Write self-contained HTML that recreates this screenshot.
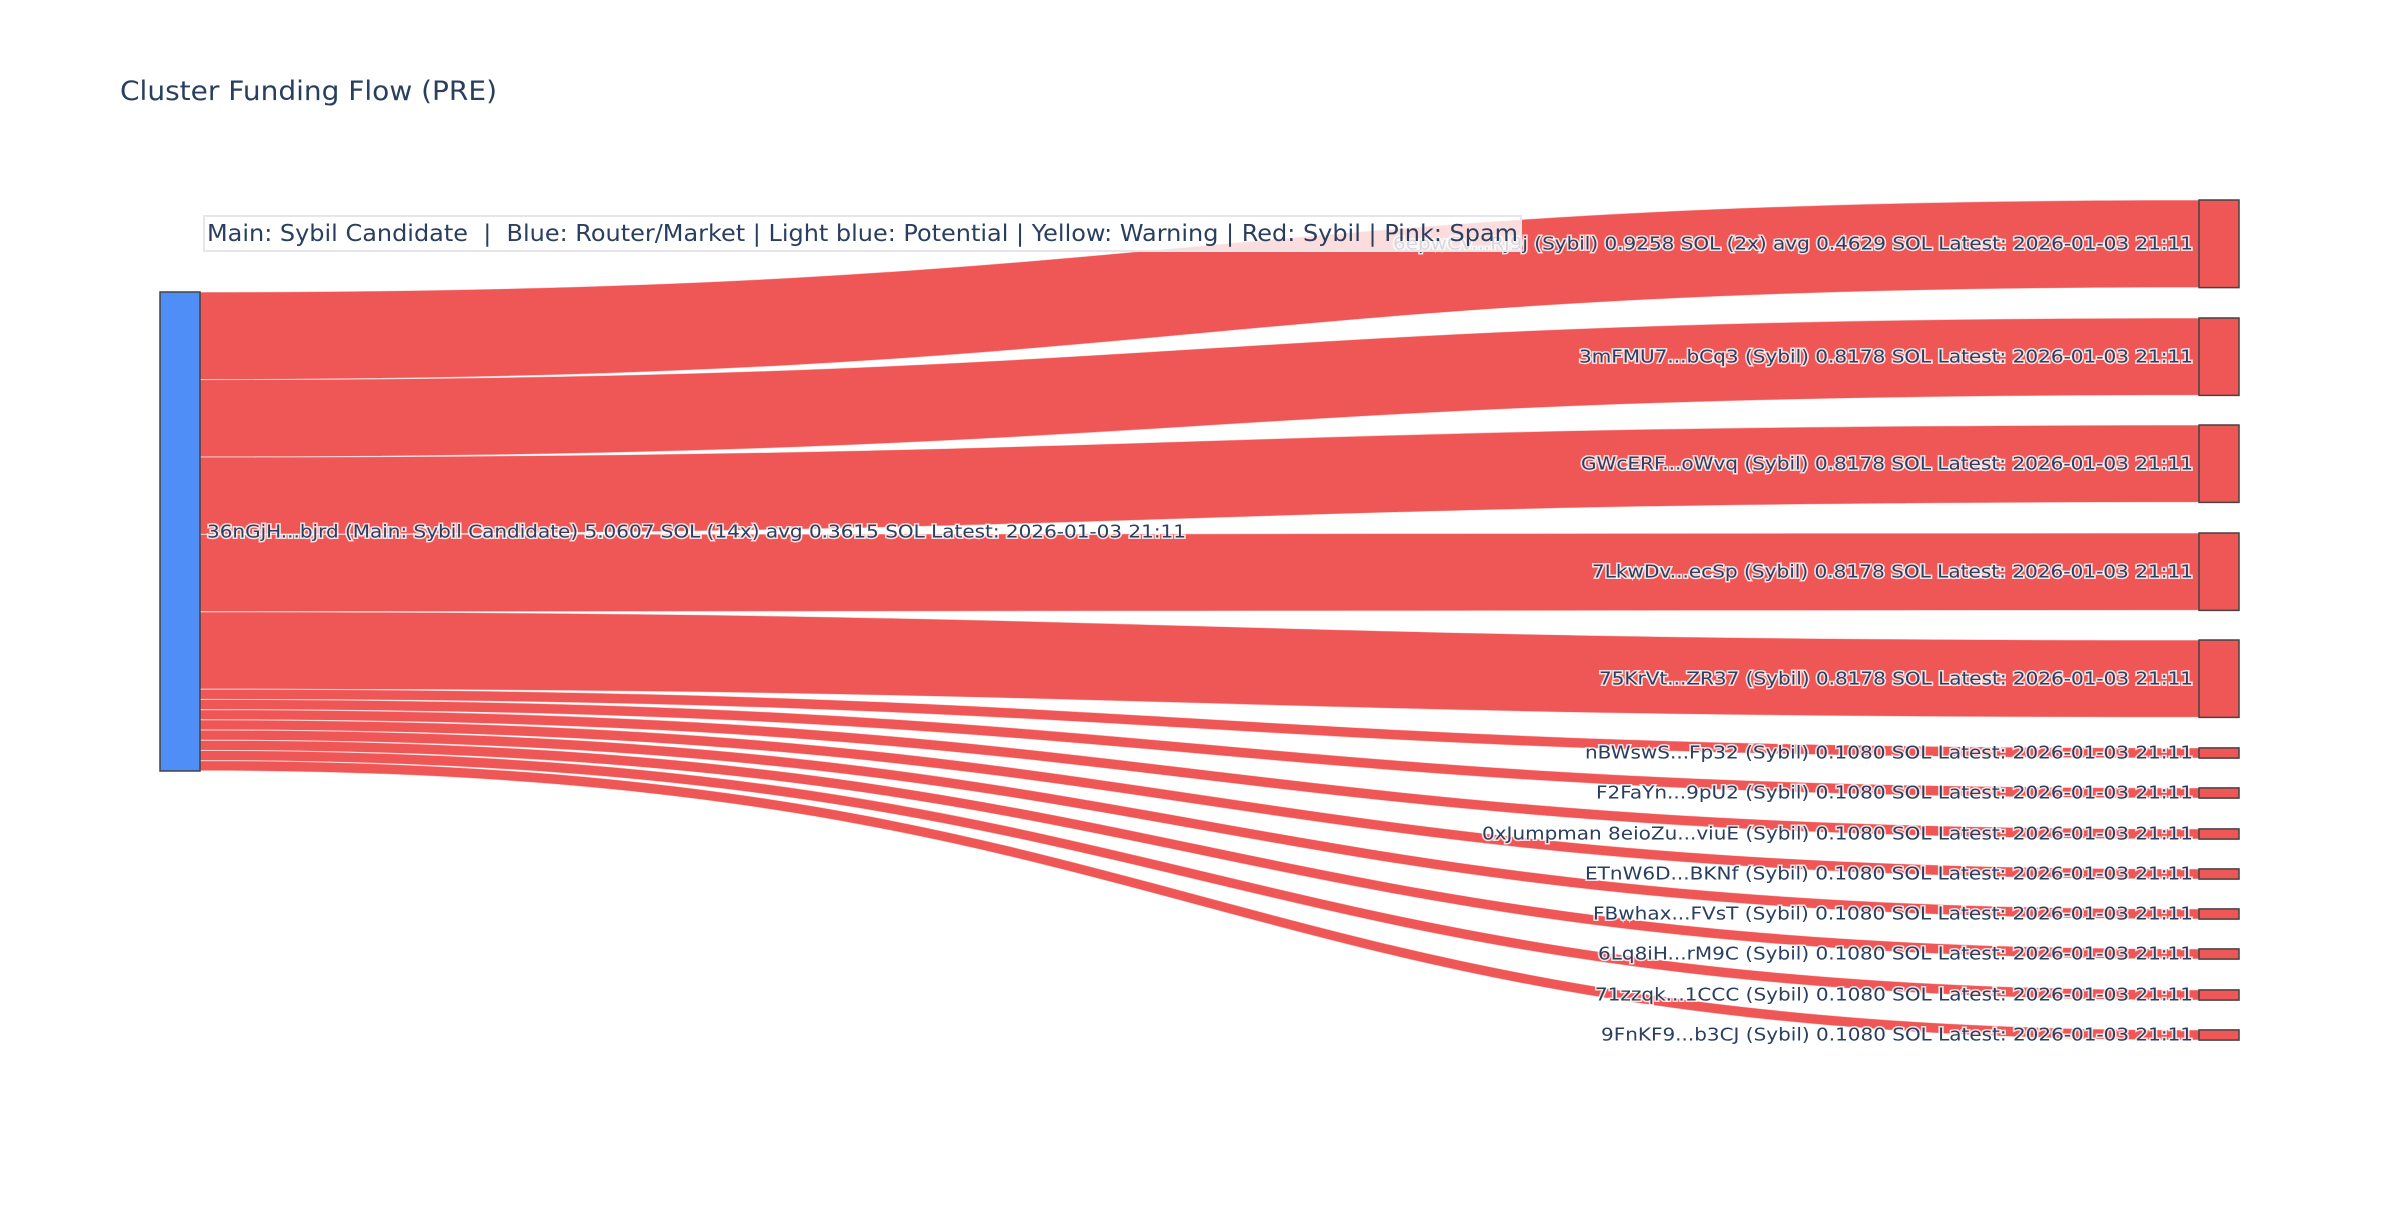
<!DOCTYPE html>
<html><head><meta charset="utf-8"><style>
html,body{margin:0;padding:0;background:#fff;}
svg text{font-family:"DejaVu Sans","Liberation Sans",sans-serif;white-space:pre;}
.lbl{font-size:18px;fill:#2a3f5f;paint-order:stroke;stroke:#fff;stroke-width:3px;stroke-opacity:0.8;}
</style></head><body>
<svg width="2400" height="1200" xmlns="http://www.w3.org/2000/svg" xml:space="preserve">
<rect width="2400" height="1200" fill="#fff"/>
<g fill="rgb(239,86,86)" stroke="#fff" stroke-width="1" stroke-opacity="0.6">
<path d="M199,292 C1199,292 1199,200 2199,200 L2199,287.6 C1199,287.6 1199,379.6 199,379.6 Z"/>
<path d="M199,379.6 C1199,379.6 1199,318 2199,318 L2199,395.4 C1199,395.4 1199,457 199,457 Z"/>
<path d="M199,457 C1199,457 1199,425 2199,425 L2199,502.4 C1199,502.4 1199,534.4 199,534.4 Z"/>
<path d="M199,534.4 C1199,534.4 1199,533 2199,533 L2199,610.4 C1199,610.4 1199,611.8 199,611.8 Z"/>
<path d="M199,611.8 C1199,611.8 1199,640 2199,640 L2199,717.4 C1199,717.4 1199,689.2 199,689.2 Z"/>
<path d="M199,689.2 C1199,689.2 1199,747.9 2199,747.9 L2199,758.1 C1199,758.1 1199,699.4 199,699.4 Z"/>
<path d="M199,699.4 C1199,699.4 1199,787.9 2199,787.9 L2199,798.1 C1199,798.1 1199,709.6 199,709.6 Z"/>
<path d="M199,709.6 C1199,709.6 1199,828.9 2199,828.9 L2199,839.1 C1199,839.1 1199,719.8 199,719.8 Z"/>
<path d="M199,719.8 C1199,719.8 1199,868.9 2199,868.9 L2199,879.1 C1199,879.1 1199,730 199,730 Z"/>
<path d="M199,730 C1199,730 1199,908.9 2199,908.9 L2199,919.1 C1199,919.1 1199,740.2 199,740.2 Z"/>
<path d="M199,740.2 C1199,740.2 1199,948.9 2199,948.9 L2199,959.1 C1199,959.1 1199,750.4 199,750.4 Z"/>
<path d="M199,750.4 C1199,750.4 1199,989.9 2199,989.9 L2199,1000.1 C1199,1000.1 1199,760.6 199,760.6 Z"/>
<path d="M199,760.6 C1199,760.6 1199,1029.9 2199,1029.9 L2199,1040.1 C1199,1040.1 1199,770.8 199,770.8 Z"/>
</g>
<g stroke="#444" stroke-width="1.5">
<rect x="160" y="292" width="40" height="479" fill="rgb(79,141,247)"/>
<g fill="rgb(239,86,86)">
<rect x="2199" y="200" width="40" height="87.6"/>
<rect x="2199" y="318" width="40" height="77.4"/>
<rect x="2199" y="425" width="40" height="77.4"/>
<rect x="2199" y="533" width="40" height="77.4"/>
<rect x="2199" y="640" width="40" height="77.4"/>
<rect x="2199" y="747.9" width="40" height="10.2"/>
<rect x="2199" y="787.9" width="40" height="10.2"/>
<rect x="2199" y="828.9" width="40" height="10.2"/>
<rect x="2199" y="868.9" width="40" height="10.2"/>
<rect x="2199" y="908.9" width="40" height="10.2"/>
<rect x="2199" y="948.9" width="40" height="10.2"/>
<rect x="2199" y="989.9" width="40" height="10.2"/>
<rect x="2199" y="1029.9" width="40" height="10.2"/>
</g></g>
<text x="120" y="100" font-size="27" fill="#2a3f5f" textLength="377" lengthAdjust="spacingAndGlyphs">Cluster Funding Flow (PRE)</text>
<g class="lbl" text-anchor="end" dominant-baseline="central">
<text x="2193" y="244" textLength="800" lengthAdjust="spacingAndGlyphs">6epwCv...Rj9j (Sybil) 0.9258 SOL (2x) avg 0.4629 SOL Latest: 2026-01-03 21:11</text>
<text x="2193" y="357" textLength="614" lengthAdjust="spacingAndGlyphs">3mFMU7...bCq3 (Sybil) 0.8178 SOL Latest: 2026-01-03 21:11</text>
<text x="2193" y="464" textLength="612" lengthAdjust="spacingAndGlyphs">GWcERF...oWvq (Sybil) 0.8178 SOL Latest: 2026-01-03 21:11</text>
<text x="2193" y="572" textLength="601" lengthAdjust="spacingAndGlyphs">7LkwDv...ecSp (Sybil) 0.8178 SOL Latest: 2026-01-03 21:11</text>
<text x="2193" y="679" textLength="594" lengthAdjust="spacingAndGlyphs">75KrVt...ZR37 (Sybil) 0.8178 SOL Latest: 2026-01-03 21:11</text>
<text x="2193" y="753" textLength="608" lengthAdjust="spacingAndGlyphs">nBWswS...Fp32 (Sybil) 0.1080 SOL Latest: 2026-01-03 21:11</text>
<text x="2193" y="793" textLength="597" lengthAdjust="spacingAndGlyphs">F2FaYn...9pU2 (Sybil) 0.1080 SOL Latest: 2026-01-03 21:11</text>
<text x="2193" y="834" textLength="711" lengthAdjust="spacingAndGlyphs">0xJumpman 8eioZu...viuE (Sybil) 0.1080 SOL Latest: 2026-01-03 21:11</text>
<text x="2193" y="874" textLength="608" lengthAdjust="spacingAndGlyphs">ETnW6D...BKNf (Sybil) 0.1080 SOL Latest: 2026-01-03 21:11</text>
<text x="2193" y="914" textLength="600" lengthAdjust="spacingAndGlyphs">FBwhax...FVsT (Sybil) 0.1080 SOL Latest: 2026-01-03 21:11</text>
<text x="2193" y="954" textLength="595" lengthAdjust="spacingAndGlyphs">6Lq8iH...rM9C (Sybil) 0.1080 SOL Latest: 2026-01-03 21:11</text>
<text x="2193" y="995" textLength="598" lengthAdjust="spacingAndGlyphs">71zzqk...1CCC (Sybil) 0.1080 SOL Latest: 2026-01-03 21:11</text>
<text x="2193" y="1035" textLength="592" lengthAdjust="spacingAndGlyphs">9FnKF9...b3CJ (Sybil) 0.1080 SOL Latest: 2026-01-03 21:11</text>
</g>
<text class="lbl" x="207" y="532" dominant-baseline="central" textLength="979" lengthAdjust="spacingAndGlyphs">36nGjH...bjrd (Main: Sybil Candidate) 5.0607 SOL (14x) avg 0.3615 SOL Latest: 2026-01-03 21:11</text>
<rect x="204" y="216" width="1317" height="35" fill="rgba(255,255,255,0.8)" stroke="#e5e5ea" stroke-width="2"/>
<text x="207" y="234" dominant-baseline="central" font-size="23" fill="#2a3f5f" textLength="1311" lengthAdjust="spacingAndGlyphs">Main: Sybil Candidate  |  Blue: Router/Market | Light blue: Potential | Yellow: Warning | Red: Sybil | Pink: Spam</text>
</svg>
</body></html>
